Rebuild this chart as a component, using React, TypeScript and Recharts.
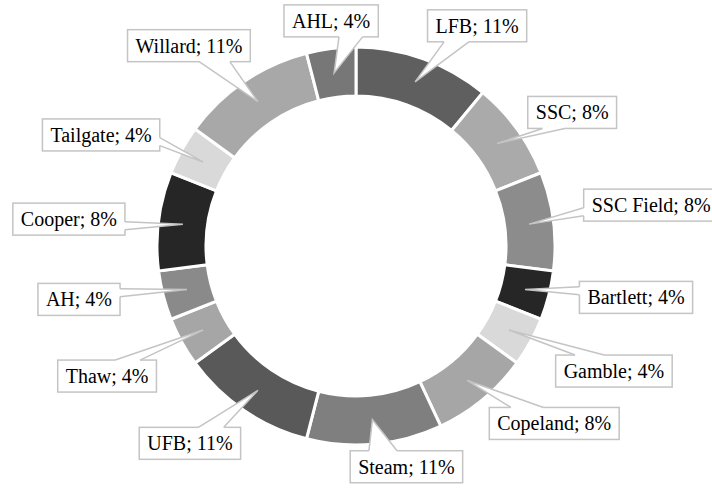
import { PieChart, Pie, Cell } from "recharts";

const names = [
  "LFB",
  "SSC",
  "SSC Field",
  "Bartlett",
  "Gamble",
  "Copeland",
  "Steam",
  "UFB",
  "Thaw",
  "AH",
  "Cooper",
  "Tailgate",
  "Willard",
  "AHL",
];
const shares = [11, 8, 8, 4, 4, 8, 11, 11, 4, 4, 8, 4, 11, 4];
const colors = [
  "#5f5f5f",
  "#aaaaaa",
  "#8c8c8c",
  "#262626",
  "#d9d9d9",
  "#a6a6a6",
  "#7f7f7f",
  "#595959",
  "#a6a6a6",
  "#8a8a8a",
  "#262626",
  "#d9d9d9",
  "#a8a8a8",
  "#777777",
];

const data = names.map((name, i) => ({ name, value: shares[i] }));

// callout box centre, relative to the point the tail points at
const labelOffsets: [number, number][] = [
  [62, -56],
  [75, -31],
  [122, -19],
  [111, 8],
  [105, 41],
  [87, 43],
  [34, 47],
  [-68, 53],
  [-96, 46],
  [-108, 10],
  [-114, -5],
  [-102, -27],
  [-69, -56],
  [-3, -52],
];

const FONT = '"Liberation Serif", "Times New Roman", serif';
const FONT_SIZE = 20;
const BORDER = "#c4c4c4";

let ctx: CanvasRenderingContext2D | null = null;
const measure = (s: string) => {
  if (!ctx) ctx = document.createElement("canvas").getContext("2d");
  if (!ctx) return s.length * 9;
  ctx.font = `${FONT_SIZE}px ${FONT}`;
  return ctx.measureText(s).width;
};

const Callout = (props: any) => {
  const { cx, cy, midAngle, innerRadius, outerRadius, index, name, value } =
    props;
  const r = (innerRadius + outerRadius) / 2;
  const rad = (-midAngle * Math.PI) / 180;
  const tx = cx + r * Math.cos(rad);
  const ty = cy + r * Math.sin(rad);
  const [ox, oy] = labelOffsets[index];
  const text = `${name}; ${value}%`;
  const w = measure(text) + 16;
  const h = 32;
  const bx = tx + ox - w / 2;
  const by = ty + oy - h / 2;
  const dx = -ox;
  const dy = -oy;

  let p1: [number, number];
  let p2: [number, number];
  let q1: [number, number];
  let q2: [number, number];
  if (Math.abs(dx) * h > Math.abs(dy) * w) {
    const ex = dx > 0 ? bx + w : bx;
    const g1 = dy > 0 ? 7 : 2;
    const g2 = dy > 0 ? 10 : 5;
    p1 = [ex, by + (h * g1) / 12];
    p2 = [ex, by + (h * g2) / 12];
    const inset = dx > 0 ? -2 : 2;
    q1 = [ex + inset, p1[1]];
    q2 = [ex + inset, p2[1]];
  } else {
    const ey = dy > 0 ? by + h : by;
    const g1 = dx > 0 ? 7 : 2;
    const g2 = dx > 0 ? 10 : 5;
    p1 = [bx + (w * g1) / 12, ey];
    p2 = [bx + (w * g2) / 12, ey];
    const inset = dy > 0 ? -2 : 2;
    q1 = [p1[0], ey + inset];
    q2 = [p2[0], ey + inset];
  }

  return (
    <g>
      <rect
        x={bx}
        y={by}
        width={w}
        height={h}
        fill="#fff"
        stroke={BORDER}
        strokeWidth={1.5}
      />
      <polygon
        points={`${tx},${ty} ${p1.join(",")} ${q1.join(",")} ${q2.join(",")} ${p2.join(",")}`}
        fill="#fff"
        stroke="none"
      />
      <path
        d={`M${p1[0]},${p1[1]}L${tx},${ty}L${p2[0]},${p2[1]}`}
        fill="none"
        stroke={BORDER}
        strokeWidth={1.5}
        strokeLinejoin="miter"
      />
      <text
        x={bx + w / 2}
        y={by + h / 2}
        textAnchor="middle"
        dominantBaseline="central"
        fontFamily={FONT}
        fontSize={FONT_SIZE}
        fill="#000"
      >
        {text}
      </text>
    </g>
  );
};

export default function App() {
  return (
    <div
      style={{
        position: "absolute",
        left: 0,
        top: 0,
        width: 712,
        height: 488,
        background: "#fff",
      }}
    >
      <PieChart
        width={712}
        height={488}
        margin={{ top: 0, right: 0, bottom: 0, left: 0 }}
      >
        <Pie
          data={data}
          dataKey="value"
          nameKey="name"
          cx={356}
          cy={246}
          innerRadius={150}
          outerRadius={199}
          startAngle={90}
          endAngle={-270}
          stroke="#fff"
          strokeWidth={3}
          label={Callout}
          labelLine={false}
          isAnimationActive={false}
        >
          {data.map((d, i) => (
            <Cell key={d.name} fill={colors[i]} />
          ))}
        </Pie>
      </PieChart>
    </div>
  );
}
